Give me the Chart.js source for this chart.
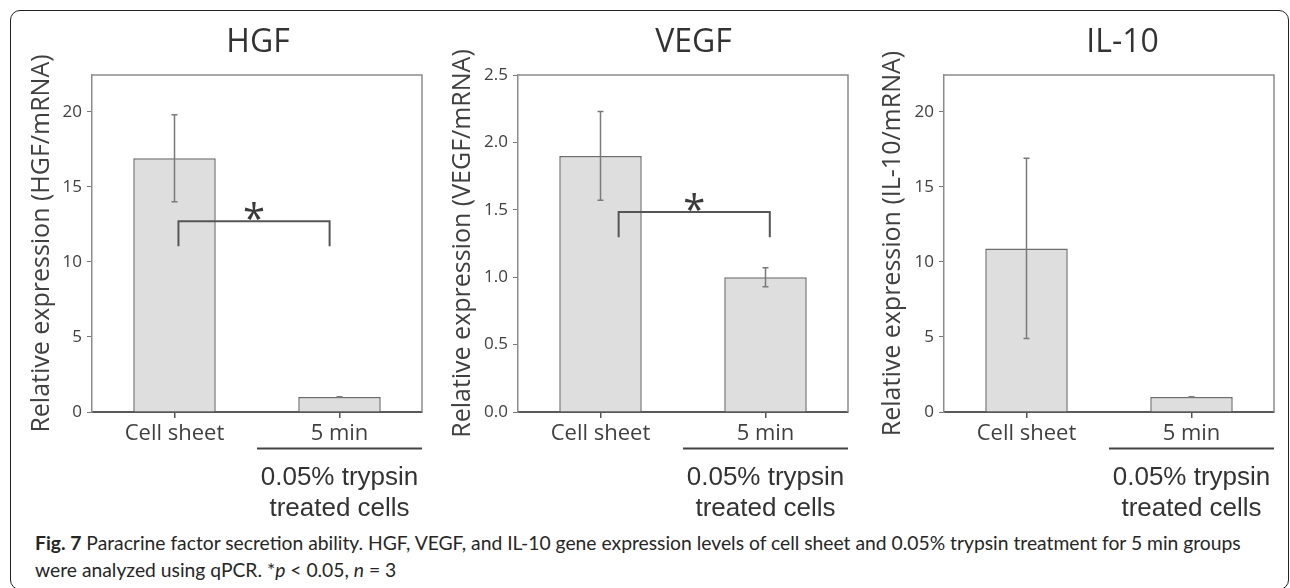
<!DOCTYPE html>
<html>
<head>
<meta charset="utf-8">
<script src="https://cdn.jsdelivr.net/npm/chart.js@4.4.0/dist/chart.umd.min.js"></script>
<style>
    body { margin: 0; background: #fff; width: 1290px; height: 588px; overflow: hidden; position: relative; }
    #frame { position: absolute; left: 10px; top: 10px; width: 1279px; height: 580px; border: 1.5px solid #222; border-radius: 10px; box-sizing: border-box; }
    canvas { position: absolute; top: 0; }
    #caption { position: absolute; left: 35px; top: 529px; font-family: Lato, sans-serif; font-size: 19.3px; line-height: 27px; color: #262626; white-space: nowrap; }
</style>
</head>
<body>
<div id="frame"></div>
<canvas id="hgf" width="430" height="525" style="left:0px"></canvas>
<canvas id="vegf" width="430" height="525" style="left:430px"></canvas>
<canvas id="il10" width="430" height="525" style="left:860px"></canvas>
<div id="caption"><b>Fig. 7</b> Paracrine factor secretion ability. HGF, VEGF, and IL-10 gene expression levels of cell sheet and 0.05% trypsin treatment for 5 min groups<br>were analyzed using qPCR. *<i>p</i> &lt; 0.05, <i>n</i> = 3</div>

<script>
const categories = ['Cell sheet', '5 min'];
const groupLabel = ['0.05% trypsin', 'treated cells'];

const hgfMeans = [16.9, 1.0];
const hgfErrors = [2.9, 0.02];
const hgfTicks = [0, 5, 10, 15, 20];
const hgfBracket = [12.7, 11.05];

const vegfMeans = [1.9, 1.0];
const vegfErrors = [0.33, 0.07];
const vegfTicks = [0, 0.5, 1.0, 1.5, 2.0, 2.5];
const vegfBracket = [1.483, 1.296];

const il10Means = [10.9, 1.0];
const il10Errors = [6.0, 0.02];
const il10Ticks = [0, 5, 10, 15, 20];

Chart.defaults.font.family = "'Open Sans', sans-serif";
Chart.defaults.color = '#404040';

function decoPlugin(cfg) {
    return {
        id: 'deco',
        afterDatasetsDraw(chart) {
            const ctx = chart.ctx;
            const xs = chart.scales.x, ys = chart.scales.y;
            const ca = chart.chartArea;
            ctx.save();

            // top and right edge of the plot box
            ctx.strokeStyle = '#8c8c8c';
            ctx.lineWidth = 1.5;
            ctx.beginPath();
            ctx.moveTo(ca.left, ca.top);
            ctx.lineTo(ca.right, ca.top);
            ctx.lineTo(ca.right, ca.bottom);
            ctx.stroke();

            // error bars
            ctx.strokeStyle = '#7a7a7a';
            ctx.lineWidth = 1.5;
            cfg.means.forEach((m, i) => {
                const x = xs.getPixelForValue(i);
                const hi = ys.getPixelForValue(m + cfg.errors[i]);
                const lo = ys.getPixelForValue(m - cfg.errors[i]);
                ctx.beginPath();
                ctx.moveTo(x, hi); ctx.lineTo(x, lo);
                ctx.moveTo(x - 3, hi); ctx.lineTo(x + 3, hi);
                ctx.moveTo(x - 3, lo); ctx.lineTo(x + 3, lo);
                ctx.stroke();
            });

            // significance bracket
            if (cfg.bracket) {
                const p0 = xs.getPixelForValue(0), p1 = xs.getPixelForValue(1);
                const xl = p0 + cfg.bracketX[0] * (p1 - p0);
                const xr = p0 + cfg.bracketX[1] * (p1 - p0);
                const yt = ys.getPixelForValue(cfg.bracket[0]);
                const yb = ys.getPixelForValue(cfg.bracket[1]);
                ctx.strokeStyle = '#555';
                ctx.lineWidth = 2;
                ctx.beginPath();
                ctx.moveTo(xl, yb); ctx.lineTo(xl, yt); ctx.lineTo(xr, yt); ctx.lineTo(xr, yb);
                ctx.stroke();
                ctx.fillStyle = '#3a3a3a';
                ctx.font = "40px 'Open Sans'";
                ctx.textAlign = 'center';
                ctx.textBaseline = 'alphabetic';
                ctx.fillText('*', (xl + xr) / 2, yt + 12);
            }

            // group line and label under the second category
            const xm = xs.getPixelForValue(0.5);
            ctx.strokeStyle = '#444';
            ctx.lineWidth = 2;
            ctx.beginPath();
            ctx.moveTo(xm, ca.bottom + 36.5);
            ctx.lineTo(ca.right, ca.bottom + 36.5);
            ctx.stroke();
            ctx.fillStyle = '#333';
            ctx.font = "26px 'Liberation Sans', Arial, sans-serif";
            ctx.textAlign = 'center';
            ctx.textBaseline = 'alphabetic';
            const x1 = xs.getPixelForValue(1);
            ctx.fillText(groupLabel[0], x1, ca.bottom + 73);
            ctx.fillText(groupLabel[1], x1, ca.bottom + 104);

            // panel title
            ctx.fillStyle = '#333';
            ctx.font = "32px 'Open Sans'";
            ctx.fillText(cfg.title, cfg.titleX, 52);
            ctx.restore();
        }
    };
}

function makePanel(id, cfg) {
    const ctx = document.getElementById(id).getContext('2d');
    return new Chart(ctx, {
        type: 'bar',
        data: {
            labels: categories,
            datasets: [{
                data: cfg.means,
                backgroundColor: '#dedede',
                borderColor: '#6e6e6e',
                borderWidth: 1.5,
                barPercentage: 0.5,
                categoryPercentage: 1.0
            }]
        },
        options: {
            responsive: false,
            animation: false,
            layout: { padding: { left: 0, right: cfg.padRight, top: 75, bottom: 0 } },
            plugins: { legend: { display: false }, tooltip: { enabled: false } },
            scales: {
                x: {
                    z: 1,
                    afterFit: s => { s.height = 113; },
                    grid: { offset: false, drawOnChartArea: false, tickLength: 6, color: '#555', lineWidth: 1.5 },
                    border: { color: '#595959', width: 2 },
                    ticks: { font: { size: 22 }, color: '#404040', padding: 3 }
                },
                y: {
                    min: 0,
                    max: cfg.max,
                    afterFit: s => { s.width = cfg.yWidth; },
                    afterBuildTicks: s => { s.ticks = cfg.ticks.map(v => ({ value: v })); },
                    grid: { drawOnChartArea: false, tickLength: 5, color: '#777', lineWidth: 1 },
                    border: { color: '#8c8c8c', width: 1.5 },
                    ticks: { font: { size: 17 }, color: '#404040', padding: 5, callback: cfg.fmt },
                    title: {
                        display: true,
                        text: cfg.yTitle,
                        font: { size: 25 },
                        color: '#404040',
                        padding: { top: cfg.titlePad, bottom: 0 }
                    }
                }
            }
        },
        plugins: [decoPlugin(cfg)]
    });
}

window.onload = function() {
    makePanel('hgf', {
        means: hgfMeans, errors: hgfErrors, ticks: hgfTicks, max: 22.45,
        bracket: hgfBracket, bracketX: [0.024, 0.94],
        title: 'HGF', titleX: 258, yTitle: 'Relative expression (HGF/mRNA)',
        yWidth: 92, padRight: 8, titlePad: 27, fmt: v => v
    });
    makePanel('vegf', {
        means: vegfMeans, errors: vegfErrors, ticks: vegfTicks, max: 2.5,
        bracket: vegfBracket, bracketX: [0.11, 1.026],
        title: 'VEGF', titleX: 263.5, yTitle: 'Relative expression (VEGF/mRNA)',
        yWidth: 88, padRight: 12, titlePad: 18, fmt: v => Number(v).toFixed(1)
    });
    makePanel('il10', {
        means: il10Means, errors: il10Errors, ticks: il10Ticks, max: 22.45,
        bracket: null,
        title: 'IL-10', titleX: 262.5, yTitle: 'Relative expression (IL-10/mRNA)',
        yWidth: 84, padRight: 16, titlePad: 18, fmt: v => v
    });
};
</script>
</body>
</html>
